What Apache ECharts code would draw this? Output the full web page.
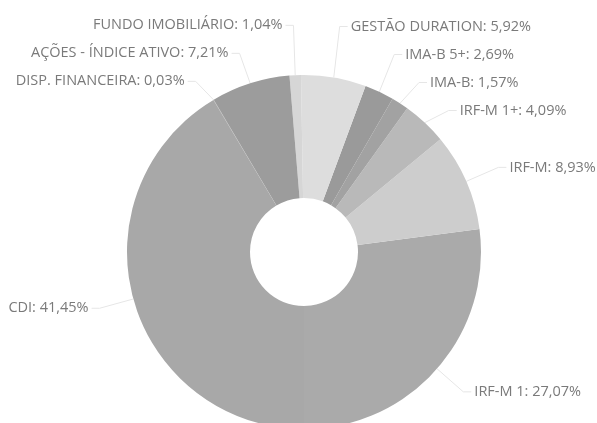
<!DOCTYPE html>
<html>
<head>
<meta charset="utf-8">
<script src="https://cdn.jsdelivr.net/npm/echarts@6/dist/echarts.min.js"></script>
<style>
  html, body { margin: 0; padding: 0; background: #fff; }
  #chart { width: 597px; height: 423px; }
</style>
</head>
<body>
<div id="chart"></div>
<script>
// slices, counterclockwise from the bottom
const names = [
  "IRF-M 1", "IRF-M", "IRF-M 1+", "IMA-B", "IMA-B 5+",
  "GESTÃO DURATION", "FUNDO IMOBILIÁRIO", "AÇÕES - ÍNDICE ATIVO",
  "DISP. FINANCEIRA", "CDI",
];
const values = [27.07, 8.93, 4.09, 1.57, 2.69, 5.92, 1.04, 7.21, 0.03, 41.45];
const colors = [
  "#aaaaaa", "#cdcdcd", "#b9b9b9", "#a2a2a2", "#9a9a9a",
  "#dddddd", "#d6d6d6", "#9c9c9c", "#a5a5a5", "#a8a8a8",
];

const cx = 304, cy = 252, rInner = 54, rOuter = 177;
const labelGap = 35;   // radial distance of the label anchor
const labelTail = 11;  // horizontal tail of the label line
const labelStep = 28;  // min vertical distance between labels

// where each label sits: mid angle of its slice, then spread per side
const total = values.reduce((a, b) => a + b, 0);
let acc = 0;
const labels = values.map((v, i) => {
  const a = (-90 + ((acc + v / 2) / total) * 360) * Math.PI / 180;
  acc += v;
  const R = rOuter + labelGap;
  const right = Math.cos(a) >= 0;
  return {
    i, right,
    edge: [cx + rOuter * Math.cos(a), cy - rOuter * Math.sin(a)],
    x: cx + R * Math.cos(a) + (right ? labelTail : -labelTail),
    ny: cy - R * Math.sin(a),
  };
});

function spread(list) {
  list.sort((a, b) => a.ny - b.ny);
  let groups = list.map((it) => ({ items: [it] }));
  const place = (g) => {
    const mean = g.items.reduce((s, it) => s + it.ny, 0) / g.items.length;
    g.top = mean - ((g.items.length - 1) / 2) * labelStep;
    g.items.forEach((it, k) => (it.y = g.top + k * labelStep));
    g.bottom = g.top + (g.items.length - 1) * labelStep;
  };
  groups.forEach(place);
  let merged = true;
  while (merged) {
    merged = false;
    for (let k = 1; k < groups.length; k++) {
      if (groups[k].top - groups[k - 1].bottom < labelStep) {
        const g = { items: groups[k - 1].items.concat(groups[k].items) };
        place(g);
        groups.splice(k - 1, 2, g);
        merged = true;
        break;
      }
    }
  }
}
spread(labels.filter((l) => l.right));
spread(labels.filter((l) => !l.right));

const chart = echarts.init(document.getElementById("chart"));

chart.setOption({
  animation: false,
  color: colors,
  series: [
    {
      type: "pie",
      center: [cx, cy],
      radius: [rInner, rOuter],
      startAngle: -90,
      clockwise: false,
      avoidLabelOverlap: false,
      itemStyle: { borderWidth: 0 },
      label: {
        show: true,
        position: "outside",
        overflow: "none",
        color: "#7a7a7a",
        fontFamily: "Open Sans",
        fontSize: 14.5,
        formatter: (p) => p.name + ": " + p.value.toFixed(2).replace(".", ",") + "%",
      },
      labelLine: {
        show: true,
        lineStyle: { color: "#e6e6e6", width: 1 },
      },
      labelLayout: (p) => {
        const l = labels[p.dataIndex];
        const d = l.right ? 1 : -1;
        return {
          x: l.x,
          y: l.y,
          align: l.right ? "left" : "right",
          verticalAlign: "middle",
          labelLinePoints: [
            l.edge,
            [l.x - d * labelTail, l.y],
            [l.x - d * 3, l.y],
          ],
        };
      },
      data: names.map((n, i) => ({ name: n, value: values[i] })),
    },
  ],
});
</script>
</body>
</html>
